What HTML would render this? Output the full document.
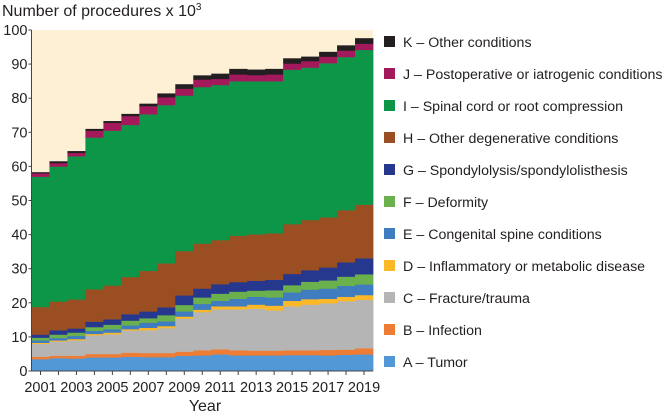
<!DOCTYPE html>
<html><head><meta charset="utf-8"><style>
body{margin:0;background:#fff;font-family:"Liberation Sans",sans-serif;}
svg text{font-family:"Liberation Sans",sans-serif;fill:#231f20;}
</style></head><body>
<svg id="c" width="667" height="415">
<text x="2" y="16" font-size="16">Number of procedures x 10<tspan dy="-6" font-size="10">3</tspan></text>
<text x="205" y="411" font-size="16" text-anchor="middle">Year</text>
</svg>
<script>
const years=[2001,2002,2003,2004,2005,2006,2007,2008,2009,2010,2011,2012,2013,2014,2015,2016,2017,2018,2019];
const seriesNames=["A – Tumor","B – Infection","C – Fracture/trauma","D – Inflammatory or metabolic disease","E – Congenital spine conditions","F – Deformity","G – Spondylolysis/spondylolisthesis","H – Other degenerative conditions","I  – Spinal cord or root compression","J – Postoperative or iatrogenic conditions","K – Other conditions"];
const seriesA=[3.5,3.8,3.7,4,4,4.2,4.1,4.1,4.5,4.6,4.9,4.6,4.6,4.6,4.7,4.7,4.6,4.8,4.9];
const seriesB=[0.7,0.7,0.8,1,1,1.2,1.2,1.2,1.2,1.5,1.5,1.5,1.4,1.4,1.4,1.4,1.6,1.5,1.8];
const seriesC=[3.8,4.2,4.5,5.5,5.8,6.5,6.7,7.3,9.7,11.2,11.7,12,12.3,11.8,12.9,13.4,13.7,14.2,14.2];
const seriesD=[0.3,0.3,0.4,0.4,0.5,0.4,0.7,0.6,0.6,0.7,0.9,0.9,1.2,1.4,1.6,1.6,1.3,1.3,1.4];
const seriesE=[0.7,0.7,0.9,0.9,1,1.1,1.5,1.4,1.5,1.7,1.6,2.2,2.3,2.4,2.5,2.8,3,3.2,3.1];
const seriesF=[0.8,1,1,1.1,1.3,1.4,1.3,1.8,1.9,1.9,2.1,2.1,1.8,2.1,2.1,2.3,2.4,2.7,3];
const seriesG=[0.9,1.3,1.2,1.6,1.6,1.9,2,2.3,2.8,2.6,2.8,2.8,2.9,3.1,3.3,3.4,3.8,4.2,4.7];
const seriesH=[8.1,8.4,8.5,9.5,9.9,10.9,11.9,12.9,13,13.2,12.9,13.6,13.6,13.6,14.6,14.7,14.7,15.3,15.7];
const seriesI=[38.2,39.6,42,44.5,45.4,44.6,45.9,46.4,45.6,45.9,45.5,45.3,44.9,44.6,45.3,44.7,45.2,44.9,45.4];
const seriesJ=[1,1,1,2,2.3,2.6,2.4,2.3,2,2.2,1.8,2,1.8,2,1.8,1.9,1.9,1.9,1.8];
const seriesK=[0.3,0.5,0.5,0.5,0.5,0.6,0.7,1.1,1.3,1.2,1.5,1.6,1.6,1.6,1.5,1.3,1.4,1.5,1.6];
const yTicks=[0,10,20,30,40,50,60,70,80,90,100];
const xLabelYears=[2001,2003,2005,2007,2009,2011,2013,2015,2017,2019];

const allSeries=[seriesA,seriesB,seriesC,seriesD,seriesE,seriesF,seriesG,seriesH,seriesI,seriesJ,seriesK];
const colors=["#5398d6","#ef7c34","#b5b5b5","#fbb829","#3f7cc0","#6ab04c","#26388e","#9a4e22","#0d9648","#a3195b","#231f20"];
const NS="http://www.w3.org/2000/svg";
const svg=document.getElementById('c');
const L=31.5,R=373,T=30,B=371;
const bw=(R-L)/years.length;
const xs=i=>L+i*bw;
const ys=v=>B-(v/100)*(B-T);
function mk(tag,attrs){const e=document.createElementNS(NS,tag);for(const k in attrs)e.setAttribute(k,attrs[k]);svg.appendChild(e);return e;}
const bg=mk('rect',{x:L,y:T,width:R-L,height:B-T,fill:'#fdf0d5'});


years.forEach((yr,i)=>{
  let cum=0;
  allSeries.forEach((s,j)=>{
    const v=s[i];
    const r=mk('rect',{x:xs(i),y:ys(cum+v),width:bw+0.4,height:ys(cum)-ys(cum+v)+0.3,fill:colors[j]});
    
    
    cum+=v;
  });
});
const ax=mk('path',{d:`M${L},${T}V${B}H${R}`,fill:'none',stroke:'#444','stroke-width':1});


yTicks.forEach(t=>{
  const tk=mk('line',{x1:L-3,x2:L,y1:ys(t),y2:ys(t),stroke:'#444'});
  
  
  const tx=mk('text',{x:L-4,y:ys(t)+5,'font-size':14.5,'text-anchor':'end'});
  tx.textContent=t;
  
  
});
years.forEach((yr,i)=>{
  const tk=mk('line',{x1:xs(i)+bw/2,x2:xs(i)+bw/2,y1:B,y2:B+4,stroke:'#444'});
  
  
});
xLabelYears.forEach(yr=>{
  const i=years.indexOf(yr);
  const tx=mk('text',{x:xs(i)+bw/2,y:392,'font-size':14.5,'text-anchor':'middle'});
  tx.textContent=yr;
  
  
});
for(let j=seriesNames.length-1;j>=0;j--){
  const row=10-j;
  const y=42+row*32;
  const sq=mk('rect',{x:384,y:y-6,width:11,height:11,fill:colors[j]});
  
  
  const tx=mk('text',{x:403,y:y+5,'font-size':14.2});
  tx.textContent=seriesNames[j];
  
  
}
</script>
</body></html>
